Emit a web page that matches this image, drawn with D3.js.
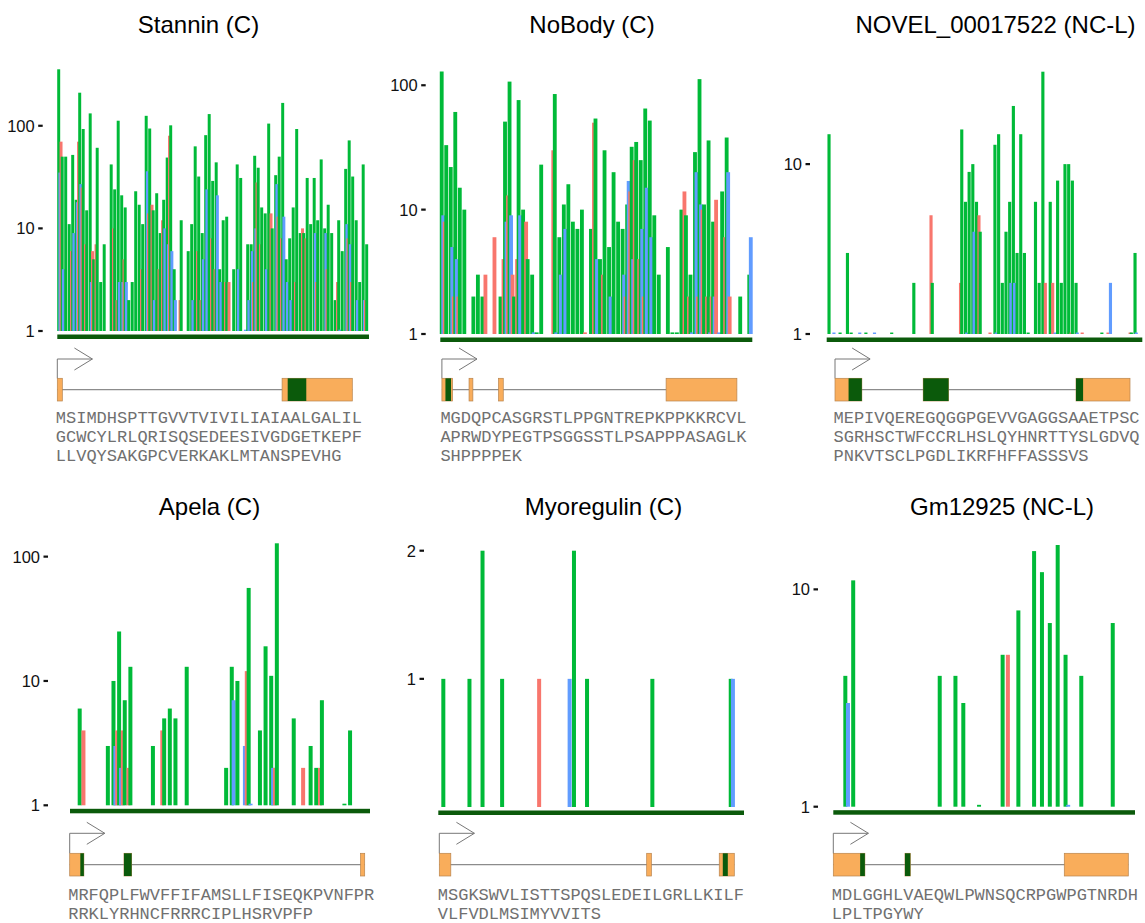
<!DOCTYPE html>
<html>
<head>
<meta charset="utf-8">
<script src="https://cdn.jsdelivr.net/npm/d3@7"></script>
<style>
  body { margin: 0; background: #fff; }
  svg text { font-family: "Liberation Sans", Arial, Helvetica, sans-serif; }
  svg text.seq { font-family: "Courier New", Courier, "Liberation Mono", monospace; }
</style>
</head>
<body>
<svg id="chart" width="1145" height="923"></svg>
<script>
// Ribosome footprint reads per codon: [codon index, reads]
// green = frame 0, blue = frame +1, red = frame +2

const stanninGreen = [[0,355],[1,50],[2,50],[3,11],[4,52],[5,19],[6,210],[7,93],[8,15],[9,132],[10,5],[11,61],[12,3],[13,7],
  [15,42],[16,24],[17,112],[18,21],[19,16],[20,2],[21,3],[22,23],[23,17],[24,11],[25,125],[26,94],[27,15],[28,22],[29,9],
  [30,19],[31,49],[32,101],[33,4],[35,12],[37,6],[38,11],[39,63],[40,32],[41,9],[42,81],[43,130],[44,29],[45,44],[46,4],
  [47,12],[48,13],[50,4],[51,42],[52,31],[54,7],[55,7],[56,51],[57,39],[58,16],[59,14],[60,105],[61,10],[62,33],[63,50],
  [64,167],[65,5],[66,8],[67,16],[68,93],[69,9],[70,9],[71,31],[72,11],[73,31],[74,12],[75,47],[76,10],[77,17],[78,9],
  [79,2],[80,12],[81,6],[82,38],[83,72],[84,32],[85,12],[86,3],[87,42],[88,7]];
const stanninRed = [[0,70],[3,6],[5,70],[6,25],[7,7],[9,6],[10,7],[15,10],[16,2],[18,5],[23,4],[25,14],[26,17],[28,4],
  [29,12],[31,80],[34,2],[39,6],[40,2],[43,8],[44,4],[47,3],[48,3],[55,3],[56,28],[57,7],[60,14],[62,13],[63,8],[67,3],
  [69,10],[70,8],[73,3],[76,4],[79,3],[82,8],[83,3],[87,2]];
const stanninBlue = [[0,35],[1,4],[4,9],[5,18],[6,27],[9,3],[17,3],[18,3],[19,3],[25,36],[27,2],[30,10],[31,7],[32,6],
  [33,2],[38,2],[41,5],[42,24],[45,21],[46,3],[51,4],[53,1.03],[54,2],[55,6],[56,10],[59,4],[62,27],[64,13],[65,3],
  [66,2],[73,9],[76,9],[80,1.03],[82,11],[83,7],[85,2],[87,2]];

const nobodyGreen = [[0,129],[1,33],[2,22],[3,61],[4,15],[5,10],[7,2],[8,3],[9,2],[13,2],[14,51],[15,107],[16,2],[17,76],
  [18,10],[19,4],[20,3],[21,1.03],[22,23],[25,85],[26,6],[27,11],[28,16],[29,8],[30,7],[31,10],[33,7],[34,54],[35,4],
  [36,30],[37,5],[38,20],[39,8],[40,7],[41,11],[42,32],[43,35],[44,25],[45,65],[46,52],[47,9],[48,3],[50,5],[51,1.03],
  [52,1.03],[53,10],[54,9],[55,3],[56,29],[57,112],[58,11],[59,36],[60,8],[62,14],[63,38],[66,2],[68,3]];
const nobodyRed = [[0,8],[2,2],[3,2],[9,3],[11,6],[13,4],[14,13],[15,3],[16,4],[18,8],[24,30],[31,1.03],[33,50],[35,3],
  [40,2],[41,14],[42,25],[43,4],[44,2],[53,14],[54,2],[56,2],[57,10],[58,2],[59,2],[60,12],[62,6],[63,2]];
const nobodyBlue = [[0,9],[2,5],[3,4],[14,8],[15,9],[17,9],[20,1.03],[25,1.03],[26,3],[27,7],[34,4],[37,2],[40,3],[41,17],
  [42,4],[44,7],[45,15],[46,6],[55,1.03],[56,20],[57,11],[59,1.03],[60,2],[61,1.03],[63,20],[68,6]];

const novelGreen = [[0,15],[3,1.02],[5,3],[6,1.02],[10,1.02],[17,1.02],[23,2],[28,2],[36,16],[37,6],[38,9],[39,10],[40,6],
  [41,4],[45,13],[46,15],[47,2],[48,4],[49,6],[50,22],[51,3],[52,15],[53,3],[54,1.02],[56,6],[57,2],[58,35],[60,6],[62,8],
  [63,2],[64,10],[65,10],[66,8],[67,2],[74,1.02],[82,1.02],[83,3]];
const novelRed = [[27,5],[35,2],[40,5],[43,1.02],[58,2],[60,2],[65,1.02],[68,1.02],[75,1.02],[81,1.02]];
const novelBlue = [[1,1.02],[8,1.02],[12,1.02],[37,1.02],[39,4],[45,1.02],[49,2],[50,2],[61,1.02],[67,1.02],[76,2],[83,1.02]];

const apelaGreen = [[0,6],[5,3],[6,10],[7,25],[8,7],[9,13],[13,3],[15,5],[16,6],[17,5],[19,13],[26,2],[27,13],[28,10],
  [30,56],[32,4],[33,19],[34,11],[35,128],[38,5],[41,3],[42,2],[43,7],[47,1.03],[48,4]];
const apelaRed = [[0,4],[6,4],[7,4],[8,2],[14,4],[29,12],[34,2],[39,2],[42,2]];
const apelaBlue = [[6,3],[7,2],[27,7],[29,3],[30,1.03],[34,2]];

const myoGreen = [[0,1],[4,1],[6,2],[9,1],[20,2],[22,1],[32,1],[44,1]];
const myoRed = [[14,1]];
const myoBlue = [[19,1],[44,1]];

const gmGreen = [[0,4],[1,11],[12,4],[14,4],[15,3],[17,1.02],[20,5],[22,8],[24,15],[25,12],[26,7],[27,16],[28,5],[30,4],[34,7]];
const gmRed = [[20,5]];
const gmBlue = [[0,3],[28,1.02]];

// codon range covered by each x axis
const stanninX = [-0.4, 88.66];
const nobodyX = [-0.31, 68.67];
const novelX = [-0.63, 84.97];
const apelaX = [-1.72, 51.54];
const myoX = [-0.77, 46.03];
const gmX = [-1.53, 36.83];

// gene models, in percent of gene length
const stanninExons = [[0,1.7],[76.2,100]],          stanninCds = [[78.1,84.4]];
const nobodyExons = [[0,3.6],[9.2,10.5],[19.2,20.8],[76,100]], nobodyCds = [[1.2,3.1]];
const novelExons = [[0,9.1],[29.9,38.5],[81.7,100]], novelCds = [[4.6,9.1],[29.9,38.5],[81.7,84.1]];
const apelaExons = [[0,4.8],[18.4,21],[98.6,100]],  apelaCds = [[3.6,4.8],[18.4,21]];
const myoExons = [[0,3.9],[70.3,71.9],[94.9,100]],  myoCds = [[96.1,97.8]];
const gmExons = [[0,10.7],[24.3,26.1],[78.3,100]],  gmCds = [[9.1,10.7],[24.3,26.1]];

const titles = ["Stannin (C)", "NoBody (C)", "NOVEL_00017522 (NC-L)", "Apela (C)", "Myoregulin (C)", "Gm12925 (NC-L)"];
const sequences = [
  "MSIMDHSPTTGVVTVIVILIAIAALGALILGCWCYLRLQRISQSEDEESIVGDGETKEPFLLVQYSAKGPCVERKAKLMTANSPEVHG",
  "MGDQPCASGRSTLPPGNTREPKPPKKRCVLAPRWDYPEGTPSGGSSTLPSAPPPASAGLKSHPPPPEK",
  "MEPIVQEREGQGGPGEVVGAGGSAAETPSCSGRHSCTWFCCRLHSLQYHNRTTYSLGDVQPNKVTSCLPGDLIKRFHFFASSSVS",
  "MRFQPLFWVFFIFAMSLLFISEQKPVNFPRRRKLYRHNCFRRRCIPLHSRVPFP",
  "MSGKSWVLISTTSPQSLEDEILGRLLKILFVLFVDLMSIMYVVITS",
  "MDLGGHLVAEQWLPWNSQCRPGWPGTNRDHLPLTPGYWY"
];
const yTicks = [[1,10,100],[1,10,100],[1,10],[1,10,100],[1,2],[1,10]];

const panels = [
  { green: stanninGreen, red: stanninRed, blue: stanninBlue, xDomain: stanninX, exons: stanninExons, cds: stanninCds, log: true },
  { green: nobodyGreen, red: nobodyRed, blue: nobodyBlue, xDomain: nobodyX, exons: nobodyExons, cds: nobodyCds, log: true },
  { green: novelGreen, red: novelRed, blue: novelBlue, xDomain: novelX, exons: novelExons, cds: novelCds, log: true },
  { green: apelaGreen, red: apelaRed, blue: apelaBlue, xDomain: apelaX, exons: apelaExons, cds: apelaCds, log: true },
  { green: myoGreen, red: myoRed, blue: myoBlue, xDomain: myoX, exons: myoExons, cds: myoCds, log: false },
  { green: gmGreen, red: gmRed, blue: gmBlue, xDomain: gmX, exons: gmExons, cds: gmCds, log: true }
].map((p, i) => ({ ...p, title: titles[i], seq: sequences[i], ticks: yTicks[i] }));

// Layout (pixels)
const rows = [
  { titleY: 32.7, arrowY: 359, exonTop: 378.3, seqY: 423 },
  { titleY: 514.5, arrowY: 833.3, exonTop: 853.3, seqY: 899.5 }
];
const layout = [
  { titleX: 198.5, x0: 57.3, x1: 369, yBase: 331, yTop: 69.3, tickX: 42.7, geneX: 57.3 },
  { titleX: 592, x0: 440.3, x1: 752.3, yBase: 334, yTop: 71.5, tickX: 425.7, geneX: 441.9 },
  { titleX: 995.5, x0: 826.7, x1: 1142.3, yBase: 334, yTop: 71.7, tickX: 810, geneX: 835 },
  { titleX: 209.5, x0: 70, x1: 370, yBase: 805.3, yTop: 543.3, tickX: 48, geneX: 69.7 },
  { titleX: 603.5, x0: 438.3, x1: 744, yBase: 807, yTop: 550.7, tickX: 424, geneX: 439.3 },
  { titleX: 1002, x0: 833.3, x1: 1135, yBase: 806.7, yTop: 545, tickX: 818, geneX: 833.3 }
];

const colors = { green: "#00BA38", blue: "#619CFF", red: "#F8766D" };
const frames = { green: 0, blue: 1, red: 2 };
const darkGreen = "#0b5a0b";
const orange = "#F9AD5B";
const exonH = 22.7;
const geneW = 295;

const svg = d3.select("#chart");

panels.forEach((p, i) => {
  const L = layout[i];
  const R = rows[Math.floor(i / 3)];
  const g = svg.append("g");

  g.append("text")
    .attr("x", L.titleX)
    .attr("y", R.titleY)
    .attr("text-anchor", "middle")
    .attr("font-size", 24)
    .attr("fill", "#000")
    .text(p.title);

  // Scales
  const x = d3.scaleLinear().domain(p.xDomain).range([L.x0, L.x1]);
  const allVals = [...p.green, ...p.red, ...p.blue].map(d => d[1]);
  const ymax = d3.max(allVals);
  const y = p.log
    ? d3.scaleLog().domain([1, ymax]).range([L.yBase, L.yTop])
    : d3.scaleLinear().domain([0, ymax]).range([L.yBase, L.yTop]);
  const y0 = p.log ? y(1) : y(0);
  const barW = Math.min(4, (x(1) - x(0)) * 0.85);

  // Bars, drawn in order of nucleotide position
  const bars = [];
  ["green", "blue", "red"].forEach(key => {
    p[key].forEach(([codon, reads]) => {
      bars.push({ pos: codon + frames[key] / 3, reads, key });
    });
  });
  bars.sort((a, b) => a.pos - b.pos);

  g.append("g").selectAll("rect")
    .data(bars)
    .join("rect")
    .attr("x", d => x(d.pos) - barW / 2)
    .attr("y", d => y(d.reads))
    .attr("width", barW)
    .attr("height", d => Math.max(0, y0 - y(d.reads)))
    .attr("fill", d => colors[d.key]);

  // Baseline bar
  g.append("rect")
    .attr("x", L.x0)
    .attr("y", y0 + 3.5)
    .attr("width", L.x1 - L.x0)
    .attr("height", 4.5)
    .attr("fill", darkGreen);

  // Y ticks
  const ticks = g.append("g").selectAll("g")
    .data(p.ticks)
    .join("g")
    .attr("transform", d => `translate(0,${y(d)})`);
  ticks.append("line")
    .attr("x1", L.tickX - 4.5)
    .attr("x2", L.tickX)
    .attr("stroke", "#111")
    .attr("stroke-width", 2.2);
  ticks.append("text")
    .attr("x", L.tickX - 8)
    .attr("dy", "0.36em")
    .attr("text-anchor", "end")
    .attr("font-size", 16.5)
    .attr("fill", "#111")
    .text(d => d3.format("d")(d));

  // Gene model
  const gx = d3.scaleLinear().domain([0, 100]).range([L.geneX, L.geneX + geneW]);
  const midY = R.exonTop + exonH / 2;
  const gene = g.append("g");

  gene.append("line")
    .attr("x1", gx(0)).attr("x2", gx(100))
    .attr("y1", midY).attr("y2", midY)
    .attr("stroke", "#8c8c8c")
    .attr("stroke-width", 1.2);

  const tip = gx(11.9);
  gene.append("path")
    .attr("d", `M${gx(0)},${R.exonTop}V${R.arrowY}H${tip}`)
    .attr("fill", "none")
    .attr("stroke", "#777")
    .attr("stroke-width", 1);
  gene.append("path")
    .attr("d", `M${gx(5.8)},${R.arrowY - 11}L${tip},${R.arrowY}L${gx(5.8)},${R.arrowY + 11}`)
    .attr("fill", "none")
    .attr("stroke", "#777")
    .attr("stroke-width", 1);

  gene.selectAll("rect.exon")
    .data(p.exons)
    .join("rect")
    .attr("class", "exon")
    .attr("x", d => gx(d[0]))
    .attr("y", R.exonTop)
    .attr("width", d => gx(d[1]) - gx(d[0]))
    .attr("height", exonH)
    .attr("fill", orange)
    .attr("stroke", "#b8844e")
    .attr("stroke-width", 0.7);

  gene.selectAll("rect.cds")
    .data(p.cds)
    .join("rect")
    .attr("class", "cds")
    .attr("x", d => gx(d[0]))
    .attr("y", R.exonTop)
    .attr("width", d => gx(d[1]) - gx(d[0]))
    .attr("height", exonH)
    .attr("fill", darkGreen);

  // Protein sequence, 30 residues per line
  const lines = p.seq.match(/.{1,30}/g);
  g.append("g").selectAll("text")
    .data(lines)
    .join("text")
    .attr("class", "seq")
    .attr("x", L.geneX - 1.5)
    .attr("y", (d, k) => R.seqY + k * 19)
    .attr("font-size", 17)
    .attr("fill", "#707070")
    .text(d => d);
});
</script>
</body>
</html>
